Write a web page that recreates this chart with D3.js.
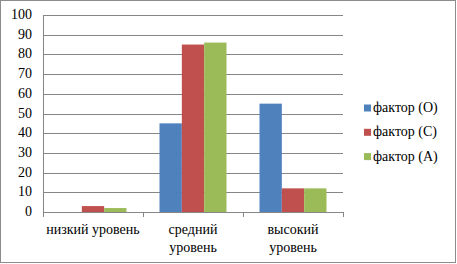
<!DOCTYPE html>
<html>
<head>
<meta charset="utf-8">
<script src="https://cdn.jsdelivr.net/npm/d3@7"></script>
<style>
  body { margin: 0; background: #fff; }
  #chart { position: relative; width: 457px; height: 264px; }
  #chart svg { position: absolute; left: 0; top: 0; }
  .lbl { position: absolute; font-family: 'Liberation Serif', 'Times New Roman', serif;
         font-size: 14px; line-height: 16px; color: #000; white-space: nowrap; }
</style>
</head>
<body>
<div id="chart"></div>
<script>
var categories = [["низкий уровень"], ["средний", "уровень"], ["высокий", "уровень"]];
var catKeys = ["low", "mid", "high"];
var seriesNames = ["фактор (О)", "фактор (С)", "фактор (А)"];
var seriesColors = ["#4f81bd", "#c0504d", "#9bbb59"];
var factorO = [0, 45, 55];
var factorC = [3, 85, 12];
var factorA = [2, 86, 12];
var yTicks = [0, 10, 20, 30, 40, 50, 60, 70, 80, 90, 100];

var W = 457, H = 264;
var margin = { left: 43, top: 15, right: 114, bottom: 52 };
var width = W - margin.left - margin.right;
var height = H - margin.top - margin.bottom;

var chart = d3.select("#chart");
var svg = chart.append("svg")
    .attr("width", W).attr("height", H);

svg.append("rect")
    .attr("x", 0.5).attr("y", 0.5)
    .attr("width", W - 2).attr("height", H - 2)
    .attr("fill", "#fff").attr("stroke", "#8c8c8c");

var g = svg.append("g")
    .attr("transform", "translate(" + margin.left + "," + margin.top + ")");

var x0 = d3.scaleBand().domain(catKeys).range([0, width]).paddingInner(0.33).paddingOuter(0.165);
var xCat = d3.scaleBand().domain(catKeys).range([0, width]);
var x1 = d3.scaleBand().domain(d3.range(seriesNames.length)).range([0, x0.bandwidth()]);
var y = d3.scaleLinear().domain([0, 100]).range([height, 0]);

// gridlines
g.selectAll(".grid").data(yTicks.slice(1)).enter()
  .append("line")
    .attr("x1", 0).attr("x2", width)
    .attr("y1", function(d){ return Math.round(y(d)) + 0.5; })
    .attr("y2", function(d){ return Math.round(y(d)) + 0.5; })
    .attr("stroke", "#868686");

// y labels
chart.selectAll(".ylab").data(yTicks).enter()
  .append("div")
    .attr("class", "lbl ylab")
    .style("left", (margin.left - 11) + "px")
    .style("top", function(d){ return (margin.top + y(d)) + "px"; })
    .style("transform", "translate(-100%,-50%)")
    .text(function(d){ return d; });

// bars
var series = [factorO, factorC, factorA];
series.forEach(function(vals, si) {
  g.selectAll(".bar" + si).data(vals).enter()
    .append("rect")
      .attr("x", function(d, i){ return x0(catKeys[i]) + x1(si); })
      .attr("y", function(d){ return y(d); })
      .attr("width", x1.bandwidth())
      .attr("height", function(d){ return height - y(d); })
      .attr("fill", seriesColors[si]);
});

// x axis line and category ticks
g.append("line")
    .attr("x1", 0).attr("x2", width)
    .attr("y1", height + 0.5).attr("y2", height + 0.5)
    .attr("stroke", "#868686");
var bounds = catKeys.map(function(k){ return xCat(k); }).concat([width]);
g.selectAll(".xtick").data(bounds).enter()
  .append("line")
    .attr("x1", function(d){ return Math.round(d) + 0.5; })
    .attr("x2", function(d){ return Math.round(d) + 0.5; })
    .attr("y1", height).attr("y2", height + 5)
    .attr("stroke", "#868686");
g.append("line")
    .attr("x1", 0.5).attr("x2", 0.5)
    .attr("y1", 0).attr("y2", height)
    .attr("stroke", "#868686");

// category labels
categories.forEach(function(lines, i) {
  var cx = margin.left + xCat(catKeys[i]) + xCat.bandwidth() / 2;
  lines.forEach(function(l, j) {
    chart.append("div")
      .attr("class", "lbl xlab")
      .style("left", cx + "px")
      .style("top", (margin.top + height + 18 + j * 18) + "px")
      .style("transform", "translate(-50%,-50%)")
      .text(l);
  });
});

// legend
seriesNames.forEach(function(name, i) {
  var cy = 108 + i * 24.3;
  svg.append("rect").attr("x", 364).attr("y", cy - 3.5).attr("width", 7).attr("height", 7)
    .attr("fill", seriesColors[i]);
  chart.append("div")
    .attr("class", "lbl legend")
    .style("left", "373px")
    .style("top", cy + "px")
    .style("transform", "translateY(-50%)")
    .text(name);
});
</script>
</body>
</html>
